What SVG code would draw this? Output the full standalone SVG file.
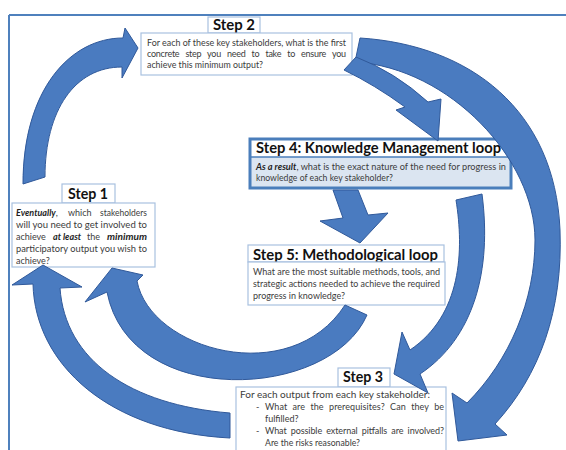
<svg xmlns="http://www.w3.org/2000/svg" width="566" height="450" viewBox="0 0 566 450">
<style>
.frame{stroke:#4f81bd;stroke-width:2;fill:none}
.arrow{fill:#4a7bc0;stroke:#30599a;stroke-width:1;stroke-linejoin:round}
.box{fill:#fff;stroke:#a9c1df;stroke-width:1.2}
.title{font-family:Lato,'Open Sans',sans-serif;font-weight:bold;font-size:16px;fill:#111}
.body{font-family:Lato,'Open Sans',sans-serif;font-size:9px;fill:#3c3c3c}
.bi{font-weight:bold;font-style:italic;fill:#1e1e1e}
</style>
<rect x="0" y="0" width="566" height="450" fill="#fff"/>
<g id="frame">
<line class="frame" x1="9" y1="15" x2="566" y2="15"/>
<line class="frame" x1="9" y1="15" x2="9" y2="450"/>
</g>
<g id="step2">
<rect class="box" x="208" y="17" width="52" height="16"/>
<text class="title" x="213" y="29.5" textLength="42" lengthAdjust="spacingAndGlyphs">Step 2</text>
<rect class="box" x="141" y="33" width="211" height="42"/>
<text class="body" x="147" y="45.5" textLength="199" lengthAdjust="spacingAndGlyphs">For each of these key stakeholders, what is the first</text>
<text class="body" x="147" y="57" textLength="199" lengthAdjust="spacing" word-spacing="4">concrete step you need to take to ensure you</text>
<text class="body" x="147" y="68" textLength="116" lengthAdjust="spacingAndGlyphs">achieve this minimum output?</text>
</g>
<g id="step1">
<rect class="box" x="62" y="184" width="53" height="19"/>
<text class="title" x="68" y="198.5" textLength="40" lengthAdjust="spacingAndGlyphs">Step 1</text>
<rect class="box" x="12" y="203" width="143" height="64"/>
<text class="body" x="16" y="216"><tspan class="bi">Eventually</tspan>,</text>
<text class="body" x="68" y="216">which</text>
<text class="body" x="100" y="216" textLength="47" lengthAdjust="spacingAndGlyphs">stakeholders</text>
<text class="body" x="16" y="228" textLength="131" lengthAdjust="spacingAndGlyphs">will you need to get involved to</text>
<text class="body" x="16" y="240">achieve</text>
<text class="body bi" x="53" y="240">at least</text>
<text class="body" x="87" y="240">the</text>
<text class="body bi" x="107" y="240" textLength="40" lengthAdjust="spacingAndGlyphs">minimum</text>
<text class="body" x="16" y="252" textLength="131" lengthAdjust="spacingAndGlyphs">participatory output you wish to</text>
<text class="body" x="16" y="263.5">achieve?</text>
</g>
<g id="step4">
<rect x="250" y="157" width="261" height="31" fill="#dbe5f1"/>
<rect x="250" y="139" width="261" height="18" fill="#fff"/>
<rect x="250" y="139" width="261" height="49" fill="none" stroke="#4a7ebb" stroke-width="3"/>
<line x1="250" y1="157" x2="511" y2="157" stroke="#4a7ebb" stroke-width="1.5"/>
<text class="title" x="256" y="153" textLength="245" lengthAdjust="spacingAndGlyphs">Step 4: Knowledge Management loop</text>
<text class="body" x="256" y="170" textLength="250" lengthAdjust="spacingAndGlyphs"><tspan class="bi">As a result</tspan>, what is the exact nature of the need for progress in</text>
<text class="body" x="256" y="181" textLength="137" lengthAdjust="spacingAndGlyphs">knowledge of each key stakeholder?</text>
</g>
<g id="step5">
<rect class="box" x="248" y="245" width="196" height="17"/>
<text class="title" x="253" y="259.5" textLength="185" lengthAdjust="spacingAndGlyphs">Step 5: Methodological loop</text>
<rect class="box" x="248" y="262" width="197" height="43"/>
<text class="body" x="253" y="275" textLength="187" lengthAdjust="spacingAndGlyphs">What are the most suitable methods, tools, and</text>
<text class="body" x="253" y="287" textLength="187" lengthAdjust="spacingAndGlyphs">strategic actions needed to achieve the required</text>
<text class="body" x="253" y="299" textLength="92" lengthAdjust="spacingAndGlyphs">progress in knowledge?</text>
</g>
<g id="step3">
<rect class="box" x="338" y="368" width="52" height="19"/>
<text class="title" x="343" y="382" textLength="40" lengthAdjust="spacingAndGlyphs">Step 3</text>
<rect class="box" x="236" y="387" width="210" height="70"/>
<text class="body" x="240" y="398" textLength="190" lengthAdjust="spacingAndGlyphs">For each output from each key stakeholder:</text>
<text class="body" x="256" y="410">-</text>
<text class="body" x="265" y="410" textLength="179" lengthAdjust="spacing" word-spacing="3">What are the prerequisites? Can they be</text>
<text class="body" x="265" y="422">fulfilled?</text>
<text class="body" x="256" y="434">-</text>
<text class="body" x="265" y="434" textLength="179" lengthAdjust="spacing" word-spacing="2">What possible external pitfalls are involved?</text>
<text class="body" x="265" y="446" textLength="95" lengthAdjust="spacingAndGlyphs">Are the risks reasonable?</text>
</g>
<g id="connectors">
<path class="arrow" d="M45,177 C45,110 75,67 122,67 L122,78 L138,48 L125,28 L123,38 C70,38 23,90 23,184 Z"/>
<path class="arrow" d="M360,38 C470,45 555,110 560,230 C563,310 540,375 495,424 L507,435 L458,441 L452,393 L467,403 C510,360 535,300 535,240 C535,160 450,68 355,62 Z"/>
<path class="arrow" d="M344,70 L356,57 Q395,72 428,102 L441,99 L438,141 L396,110 L405,107 Q375,85 344,70 Z"/>
<path class="arrow" d="M456,200 C464,250 462,315 410,350 L402,332 L394,374 L428,393 L420,374 C474,338 492,270 482,194 Z"/>
<path class="arrow" d="M333,190 L358,190 L368,215 L388,213 L360,243 L320,221 L343,218 Z"/>
<path class="arrow" d="M345,305 C290,390 150,350 137,281 L143,275 L112,268 L85,302 L107,292 C130,410 330,400 367,315 Z"/>
<path class="arrow" d="M230,413 C130,405 65,360 60,288 L82,287 L43,265 L12,285 L33,284 C35,365 110,432 230,438 Z"/>
</g>
</svg>
